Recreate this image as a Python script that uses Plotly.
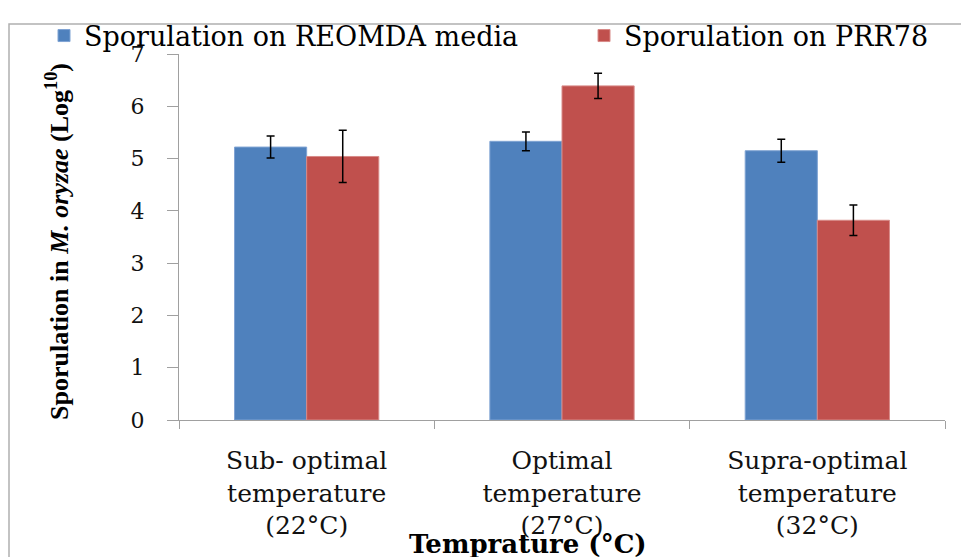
import plotly.graph_objects as go

categories = ["Sub- optimal<br>temperature<br>(22°C)", "Optimal<br>temperature<br>(27°C)", "Supra-optimal<br>temperature<br>(32°C)"]
reomda = [5.22, 5.33, 5.15]
reomda_err = [0.21, 0.18, 0.22]
prr78 = [5.04, 6.39, 3.82]
prr78_err = [0.50, 0.24, 0.29]

SERIF = "Liberation Serif"
WIDE = "DejaVu Serif"
OFF = 8  # page body margin
W, H = 969 - OFF, 557 - OFF
PL, PR, PT, PB = 179, 945, 54, 420  # plot box in page pixels
L, R, T, B = PL - OFF, W - (PR - OFF), PT - OFF, H - (PB - OFF)

def px_x(p):
    return (p - PL) / (PR - PL)

def px_y(p):
    return (PB - p) / (PB - PT)

fig = go.Figure()
fig.add_trace(go.Bar(
    x=categories, y=reomda, name="Sporulation on REOMDA media", legend="legend",
    marker=dict(color="#4F81BD", line=dict(color="#7fa3d3", width=1)),
    error_y=dict(type="data", array=reomda_err, color="black", thickness=1.5, width=4),
))
fig.add_trace(go.Bar(
    x=categories, y=prr78, name="Sporulation on PRR78", legend="legend2",
    marker=dict(color="#C0504D", line=dict(color="#d88a88", width=1)),
    error_y=dict(type="data", array=prr78_err, color="black", thickness=1.5, width=4),
))

leg_common = dict(orientation="h", xanchor="left", yanchor="middle",
                  font=dict(family=WIDE, size=27), itemwidth=30,
                  bgcolor="rgba(0,0,0,0)")
fig.update_layout(
    width=W, height=H,
    margin=dict(l=L, r=R, t=T, b=B, autoexpand=False),
    paper_bgcolor="white", plot_bgcolor="white",
    barmode="group", bargap=0.435, bargroupgap=0,
    font=dict(family=WIDE, color="black", size=20),
    legend=dict(x=px_x(44), y=px_y(36), **leg_common),
    legend2=dict(x=px_x(584), y=px_y(36), **leg_common),
    showlegend=True,
)
fig.update_xaxes(
    showline=True, linecolor="#a0a0a0", linewidth=1,
    ticks="outside", tickson="boundaries", ticklen=8, tickcolor="#a0a0a0",
    tickfont=dict(family=WIDE, size=25, color="#111"), ticklabelstandoff=18,
    showgrid=False, range=[-0.5, 2.5],
)
fig.update_yaxes(
    range=[0, 7], dtick=1, showline=True, linecolor="#a0a0a0", linewidth=1,
    ticks="outside", ticklen=11, tickcolor="#a0a0a0", showgrid=False, zeroline=False,
    tickfont=dict(family=WIDE, size=22, color="#111"), ticklabelstandoff=18,
)
fig.add_annotation(
    text="<b>Sporulation in <i>M. oryzae</i> (Log<sup>10</sup>)</b>",
    xref="paper", yref="paper", x=px_x(57), y=px_y(242), textangle=-90,
    xanchor="center", yanchor="middle", showarrow=False,
    font=dict(family=SERIF, size=26, color="black"),
)
fig.add_annotation(
    text="<b>Temprature (°C)</b>", xref="paper", yref="paper",
    x=px_x(528), y=px_y(544), xanchor="center", yanchor="middle",
    showarrow=False, font=dict(family=WIDE, size=26, color="black"),
)
fig.add_shape(
    type="rect", xref="paper", yref="paper",
    x0=px_x(9), x1=px_x(967), y0=px_y(570), y1=px_y(24),
    line=dict(color="#b0b0b0", width=1.5), fillcolor="rgba(0,0,0,0)", layer="below",
)

fig.write_html("out.html")
